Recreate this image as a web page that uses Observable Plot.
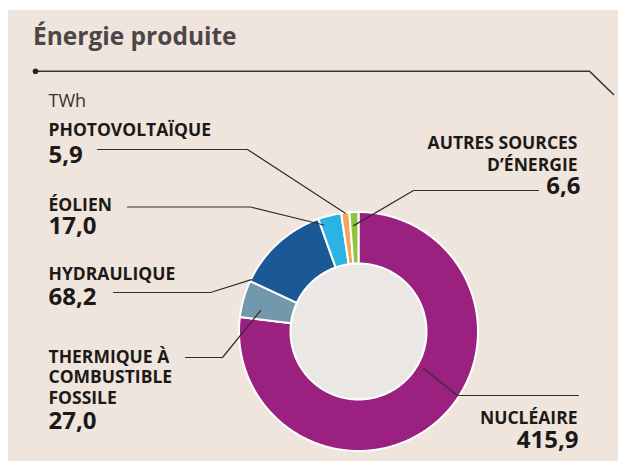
<!DOCTYPE html>
<html><head><meta charset="utf-8">
<script src="https://cdn.jsdelivr.net/npm/d3@7"></script>
<script src="https://cdn.jsdelivr.net/npm/@observablehq/plot@0.6"></script>
<style>
html,body{margin:0;padding:0;background:#fff;width:618px;height:461px;overflow:hidden;}
#panel{position:absolute;left:8px;top:10px;width:610px;height:451px;background:#efe5dc;overflow:hidden;}
#title{position:absolute;left:25px;top:13px;margin:0;font:700 24.5px/25px "Open Sans",sans-serif;color:#4d4547;white-space:nowrap;}
#chart{position:absolute;left:0;top:50px;}
</style>
</head><body>
<div id="panel"><h2 id="title">Énergie produite</h2><div id="chart"></div></div>
<script>
// ---- data ----
const sources = ["Nucléaire", "Thermique à combustible fossile", "Hydraulique", "Éolien", "Photovoltaïque", "Autres sources d'énergie"];
const values = [415.9, 27.0, 68.2, 17.0, 5.9, 6.6];
const nameLines = [["NUCLÉAIRE"], ["THERMIQUE À", "COMBUSTIBLE", "FOSSILE"], ["HYDRAULIQUE"], ["ÉOLIEN"], ["PHOTOVOLTAÏQUE"], ["AUTRES SOURCES", "D’ÉNERGIE"]];
const unit = "TWh";
const colors = ["#9b2181", "#7397ab", "#1a5995", "#2ab3e3", "#f4a55b", "#8dc540"];

// ---- layout (page pixels) ----
const W = 618, H = 461, PX = 8, PY = 60;
const cx = 358, cy = 331, R = 119.5, r0 = 68;
const layout = [
  {x: 577, ys: [423], anchor: "end", vx: 578, vy: 447, lead: [[578, 395], [457, 395]], frac: 0.432, rr: 75},
  {x: 48, ys: [362, 382.5, 403], anchor: "start", vx: 48, vy: 428, lead: [[185, 357], [222, 357]], frac: 0.29, rr: 100},
  {x: 48, ys: [279], anchor: "start", vx: 48, vy: 304, lead: [[113, 292], [210, 292]], frac: 0.02, rr: 119},
  {x: 48, ys: [210], anchor: "start", vx: 48, vy: 233, lead: [[127, 206.5], [250, 206.5]], frac: 0.14, rr: 112},
  {x: 48, ys: [135], anchor: "start", vx: 48, vy: 162, lead: [[97, 149], [247, 149]], frac: 0.5, rr: 119},
  {x: 577, ys: [148, 170.5], anchor: "end", vx: 580, vy: 193, lead: [[538, 190], [413, 190]], frac: 0.4, rr: 106}
];

const fmt = v => d3.format(".1f")(v).replace(".", ",");
const table = sources.map((name, i) => ({name, value: values[i]}));
const arcs = d3.pie().sort(null).value(d => d.value)(table);

const pt = (a, rad) => ({x: cx + rad * Math.sin(a), y: cy - rad * Math.cos(a)});

// slice polygons
const slicePts = [];
arcs.forEach(a => {
  const n = Math.max(2, Math.ceil((a.endAngle - a.startAngle) / (Math.PI / 360)));
  for (let i = 0; i <= n; i++) slicePts.push({name: a.data.name, ...pt(a.startAngle + (a.endAngle - a.startAngle) * i / n, R)});
  for (let i = n; i >= 0; i--) slicePts.push({name: a.data.name, ...pt(a.startAngle + (a.endAngle - a.startAngle) * i / n, r0)});
});
const hole = d3.range(0, 361, 1).map(d => pt(d * Math.PI / 180, r0));

// leader lines
const leaders = [];
arcs.forEach((a, i) => {
  const L = layout[i];
  L.lead.forEach(([x, y]) => leaders.push({id: i, x, y}));
  const ang = a.startAngle + (a.endAngle - a.startAngle) * L.frac;
  leaders.push({id: i, ...pt(ang, L.rr)});
});

// text rows
const nameRows = [], valueRows = [];
arcs.forEach((a, i) => {
  const L = layout[i];
  nameLines[i].forEach((t, j) => nameRows.push({x: L.x, y: L.ys[j], text: t, anchor: L.anchor}));
  valueRows.push({x: L.vx, y: L.vy, text: fmt(a.data.value), anchor: L.anchor});
});

const rule = [{x: 35, y: 70.7}, {x: 589, y: 70.7}, {x: 613, y: 94}];
const font = "'Open Sans', sans-serif";

const chart = Plot.plot({
  width: W - PX, height: H - PY,
  margin: 0,
  x: {type: "linear", domain: [PX, W], range: [0, W - PX], axis: null},
  y: {type: "linear", domain: [PY, H], range: [0, H - PY], axis: null},
  color: {domain: sources, range: colors},
  style: {background: "transparent"},
  marks: [
    Plot.line(rule, {x: "x", y: "y", stroke: "#3a3434", strokeWidth: 1.6}),
    Plot.dot([rule[0]], {x: "x", y: "y", r: 2.8, fill: "#2a2424", stroke: null}),
    Plot.text([{x: 48, y: 106, text: unit}], {x: "x", y: "y", text: "text", textAnchor: "start", lineAnchor: "bottom", fontSize: 18, fontFamily: font, fill: "#3a3333"}),
    Plot.line(hole, {x: "x", y: "y", curve: "linear-closed", fill: "#eae7e4", stroke: "white", strokeWidth: 2}),
    Plot.line(slicePts, {x: "x", y: "y", z: "name", fill: "name", stroke: "white", strokeWidth: 2, curve: "linear-closed"}),
    Plot.line(leaders, {x: "x", y: "y", z: "id", stroke: "#332d2d", strokeWidth: 1.2}),
    Plot.text(nameRows.filter(d => d.anchor === "start"), {x: "x", y: "y", text: "text", textAnchor: "start", lineAnchor: "bottom", fontSize: 17.5, fontWeight: 700, fontFamily: font, fill: "#1c1919"}),
    Plot.text(nameRows.filter(d => d.anchor === "end"), {x: "x", y: "y", text: "text", textAnchor: "end", lineAnchor: "bottom", fontSize: 17.5, fontWeight: 700, fontFamily: font, fill: "#1c1919"}),
    Plot.text(valueRows.filter(d => d.anchor === "start"), {x: "x", y: "y", text: "text", textAnchor: "start", lineAnchor: "bottom", fontSize: 24, fontWeight: 700, fontFamily: font, fill: "#1c1919"}),
    Plot.text(valueRows.filter(d => d.anchor === "end"), {x: "x", y: "y", text: "text", textAnchor: "end", lineAnchor: "bottom", fontSize: 24, fontWeight: 700, fontFamily: font, fill: "#1c1919"})
  ]
});
document.getElementById("chart").appendChild(chart);
</script>
</body></html>
